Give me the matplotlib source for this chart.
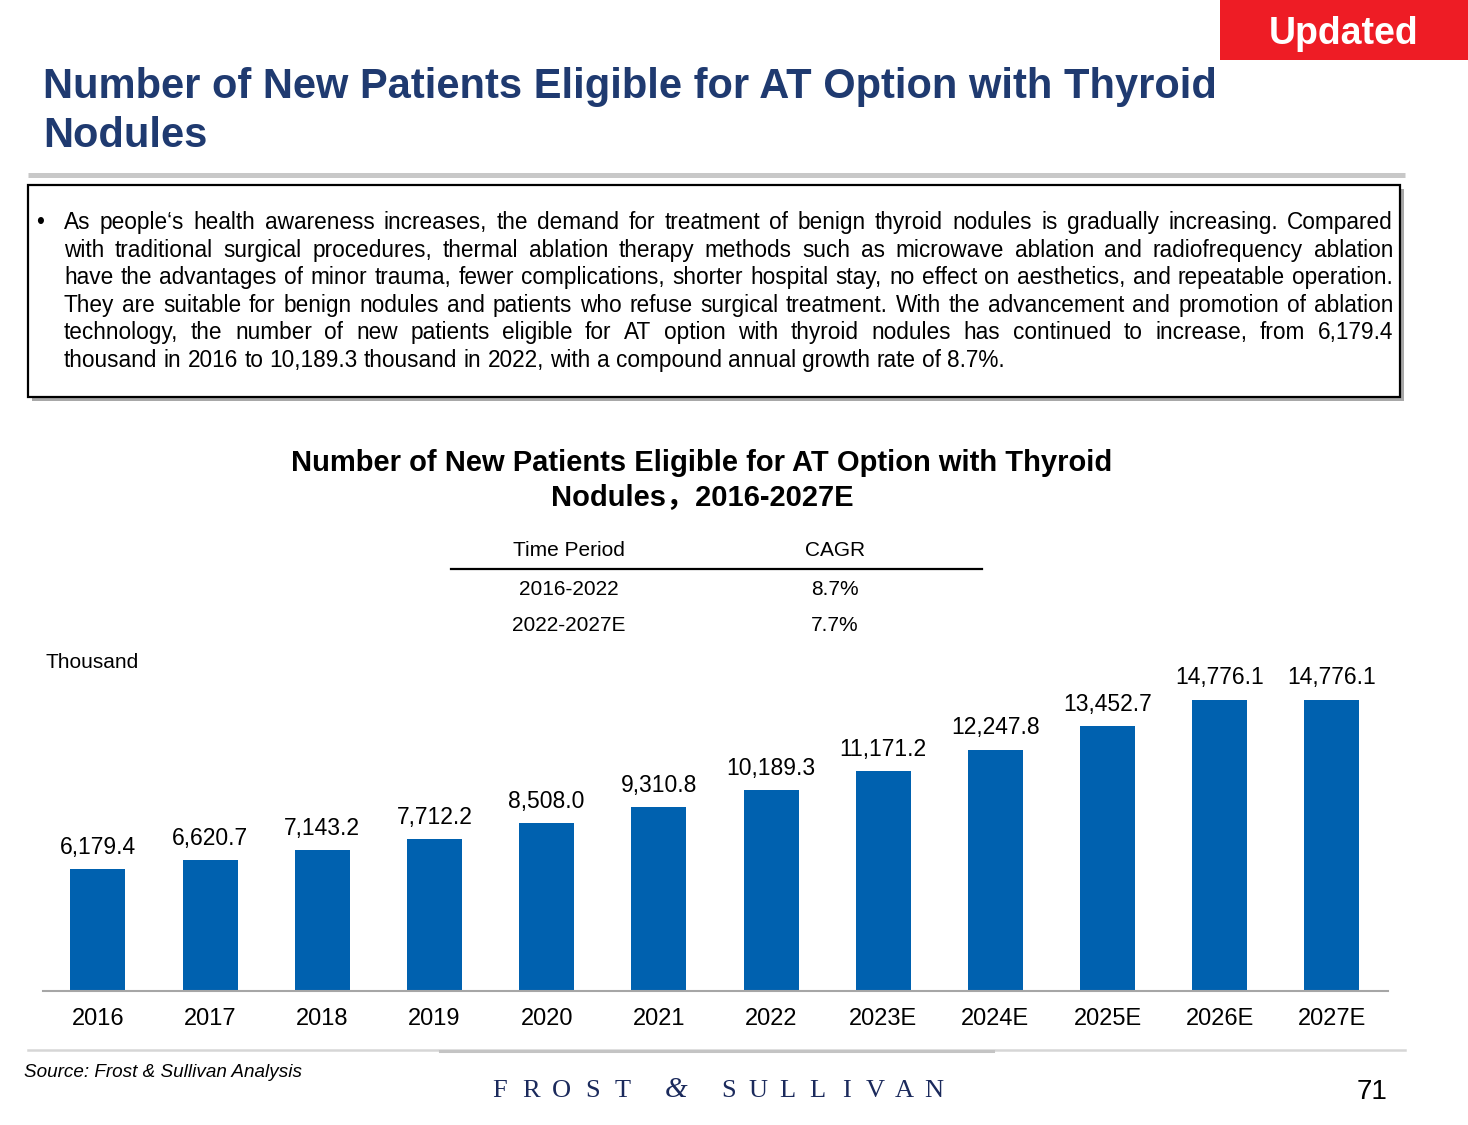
import matplotlib
matplotlib.use("Agg")
import matplotlib.pyplot as plt
from matplotlib.patches import Rectangle
from matplotlib.lines import Line2D
import numpy as np

W, H = 1468, 1125

# data
years = ["2016", "2017", "2018", "2019", "2020", "2021", "2022",
         "2023E", "2024E", "2025E", "2026E", "2027E"]
patients = [6179.4, 6620.7, 7143.2, 7712.2, 8508.0, 9310.8, 10189.3,
            11171.2, 12247.8, 13452.7, 14776.1, 14776.1]
periods = ["2016-2022", "2022-2027E"]
cagr = ["8.7%", "7.7%"]

para_lines = [
    "As people\u2018s health awareness increases, the demand for treatment of benign thyroid nodules is gradually increasing. Compared",
    "with traditional surgical procedures, thermal ablation therapy methods such as microwave ablation and radiofrequency ablation",
    "have the advantages of minor trauma, fewer complications, shorter hospital stay, no effect on aesthetics, and repeatable operation.",
    "They are suitable for benign nodules and patients who refuse surgical treatment. With the advancement and promotion of ablation",
    "technology, the number of new patients eligible for AT option with thyroid nodules has continued to increase, from 6,179.4",
    "thousand in 2016 to 10,189.3 thousand in 2022, with a compound annual growth rate of 8.7%.",
]

plt.rcParams['font.family'] = ['Liberation Sans', 'Noto Sans CJK SC', 'DejaVu Sans']

fig = plt.figure(figsize=(W / 100, H / 100), dpi=100)
renderer = fig.canvas.get_renderer()


def fx(x):
    return x / W


def fy(y):
    return 1 - y / H


def txt(x, y, s, **kw):
    kw.setdefault('va', 'baseline')
    return fig.text(fx(x), fy(y), s, **kw)


def hline(x0, x1, y, **kw):
    fig.add_artist(Line2D([fx(x0), fx(x1)], [fy(y), fy(y)], transform=fig.transFigure, **kw))


# top badge
fig.add_artist(Rectangle((fx(1220), fy(60)), fx(1468) - fx(1220), 60 / H,
                         transform=fig.transFigure, color='#EE1C25', lw=0))
txt(1344, 44, "Updated", ha='center', color='white', fontsize=27, fontweight='bold')

# page title
navy = '#1F3A70'
txt(43, 98, "Number of New Patients Eligible for AT Option with Thyroid",
    color=navy, fontsize=30, fontweight='bold')
txt(43, 147, "Nodules", color=navy, fontsize=30, fontweight='bold')
hline(28, 1405, 175, color='#C8C8C8', lw=3.6, solid_capstyle='butt')

# text box with shadow
fig.add_artist(Rectangle((fx(32), fy(401)), fx(1400) - fx(28), (397 - 185) / H,
                         transform=fig.transFigure, facecolor='#A8A8A8', lw=0))
fig.add_artist(Rectangle((fx(28), fy(397)), fx(1400) - fx(28), (397 - 185) / H,
                         transform=fig.transFigure, facecolor='white',
                         edgecolor='black', lw=1.6))

# justified paragraph
para_size = 16.3
x0, x1 = 64, 1393
txt(36, 229, "\u2022", fontsize=para_size)
for k, line in enumerate(para_lines):
    y = 229 + k * 27.6
    words = line.split(" ")
    objs = [txt(x0, y, w, fontsize=para_size) for w in words]
    widths = [o.get_window_extent(renderer).width for o in objs]
    if k == len(para_lines) - 1:
        gap = 0.278 * para_size * 100 / 72
    else:
        gap = (x1 - x0 - sum(widths)) / (len(words) - 1)
    x = x0
    for o, w in zip(objs, widths):
        o.set_x(fx(x))
        x += w + gap

# chart title
txt(702, 471, "Number of New Patients Eligible for AT Option with Thyroid",
    ha='center', fontsize=21, fontweight='bold')
txt(702, 506, "Nodules\uff0c2016-2027E", ha='center', fontsize=21, fontweight='bold')

# CAGR table
txt(569, 556, "Time Period", ha='center', fontsize=15)
txt(835, 556, "CAGR", ha='center', fontsize=15)
hline(451, 982, 569, color='black', lw=1.6)
for k, (p, c) in enumerate(zip(periods, cagr)):
    y = 595 + k * 36
    txt(569, y, p, ha='center', fontsize=15)
    txt(835, y, c, ha='center', fontsize=15)

txt(45, 668, "Thousand", fontsize=15)

# bars
ax = fig.add_axes([fx(43), fy(991), fx(1388) - fx(43), (991 - 650) / H])
xpos = np.arange(len(years))
ax.bar(xpos, patients, width=0.49, color='#0061AF')
ax.set_xlim(-0.49, len(years) - 0.5)
ax.set_ylim(0, 17300)
for s in ['top', 'left', 'right']:
    ax.spines[s].set_visible(False)
ax.spines['bottom'].set_color('#A6A6A6')
ax.spines['bottom'].set_linewidth(1.5)
ax.set_yticks([])
ax.set_xticks(xpos)
ax.set_xticklabels(years, fontsize=17)
ax.tick_params(axis='x', length=0, pad=12)
for i, v in enumerate(patients):
    ax.annotate(f"{v:,.1f}", (i, v), xytext=(0, 11), textcoords='offset points',
                ha='center', va='baseline', fontsize=16.5)

# footer
hline(28, 1405, 1050, color='#D6D6D6', lw=1.8)
hline(440, 993, 1051, color='#C4C4C4', lw=2.2)
txt(24, 1077, "Source: Frost & Sullivan Analysis", fontsize=13.6, fontstyle='italic')
logo = '#1B2A5C'
for c, xc in zip("FROST", np.linspace(500, 623, 5)):
    txt(xc, 1097, c, ha='center', fontsize=19, color=logo, family='Liberation Serif')
txt(676, 1097, "&", ha='center', fontsize=21, color=logo, family='Liberation Serif',
    fontstyle='italic')
for c, xc in zip("SULLIVAN", np.linspace(729, 934, 8)):
    txt(xc, 1097, c, ha='center', fontsize=19, color=logo, family='Liberation Serif')
txt(1388, 1099, "71", ha='right', fontsize=20)

fig.savefig("out.png", dpi=100)
